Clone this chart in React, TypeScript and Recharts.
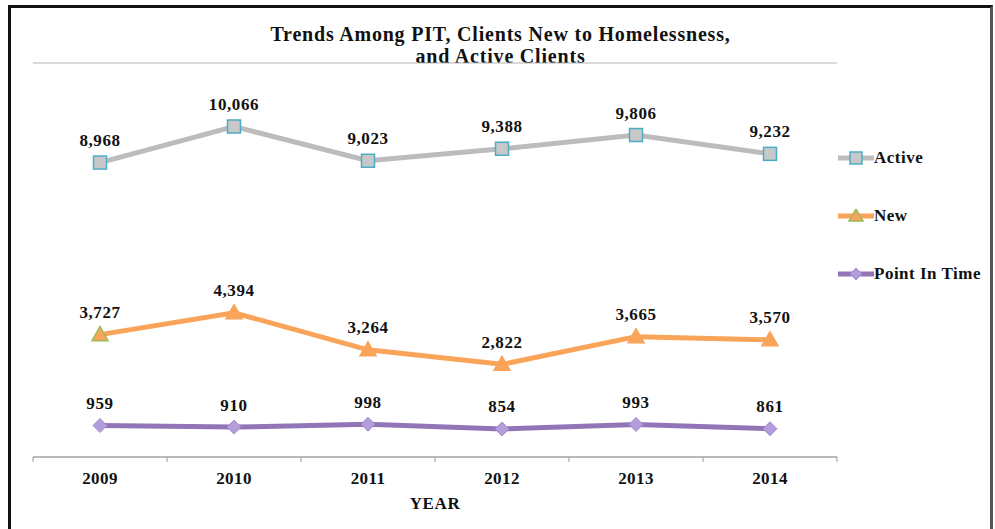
import React from 'react';
import { LineChart, Line, XAxis, YAxis, CartesianGrid, LabelList } from 'recharts';

const years = [2009, 2010, 2011, 2012, 2013, 2014];
const active = [8968, 10066, 9023, 9388, 9806, 9232];
const newClients = [3727, 4394, 3264, 2822, 3665, 3570];
const pointInTime = [959, 910, 998, 854, 993, 861];
const yTicks = [0, 2000, 4000, 6000, 8000, 10000, 12000];
const seriesNames = ['Active', 'New', 'Point In Time'];

const data = years.map((year, i) => ({
  year,
  active: active[i],
  newClients: newClients[i],
  pit: pointInTime[i],
}));

// category labels at whole years, tick marks between them
const xTicks = [...years.map((y) => y - 0.5), years[years.length - 1] + 0.5, ...years].sort((a, b) => a - b);

const font = '"Liberation Serif", "Times New Roman", serif';

const colors = {
  active: '#bcbcbc',
  activeFill: '#c8c8c8',
  activeEdge: '#4bacc6',
  newLine: '#f9a458',
  newEdge: '#9bbb59',
  pit: '#9175b7',
  pitFill: '#b49ddb',
};

const SquareDot = (p: any) => {
  if (p.cx == null) return null;
  return <rect x={p.cx - 6.5} y={p.cy - 6.5} width={13} height={13} fill={colors.activeFill} stroke={colors.activeEdge} strokeWidth={1.5} />;
};

const TriangleDot = (p: any) => {
  if (p.cx == null) return null;
  const { cx, cy } = p;
  return (
    <polygon
      points={`${cx},${cy - 8} ${cx + 8},${cy + 6} ${cx - 8},${cy + 6}`}
      fill={colors.newLine}
      stroke={p.index === 0 ? colors.newEdge : colors.newLine}
      strokeWidth={1.5}
    />
  );
};

const DiamondDot = (p: any) => {
  if (p.cx == null) return null;
  const { cx, cy } = p;
  return (
    <polygon points={`${cx},${cy - 7} ${cx + 7},${cy} ${cx},${cy + 7} ${cx - 7},${cy}`} fill={colors.pitFill} stroke="#a58bce" strokeWidth={1} />
  );
};

const ValueLabel = (p: any) => (
  <text x={p.x} y={p.y - 22} textAnchor="middle" dominantBaseline="central" fontFamily={font} fontWeight="bold" fontSize={17} letterSpacing={0.6} fill="#111">
    {Number(p.value).toLocaleString('en-US')}
  </text>
);

const YearTick = (p: any) => {
  const v = p.payload.value;
  if (Number.isInteger(v)) {
    return (
      <text x={p.x} y={p.y + 13} textAnchor="middle" dominantBaseline="central" fontFamily={font} fontWeight="bold" fontSize={17} letterSpacing={0.4} fill="#111">
        {v}
      </text>
    );
  }
  return <line x1={p.x} x2={p.x} y1={p.y - 8} y2={p.y - 3} stroke="#999" />;
};

const legendItems = [
  {
    name: seriesNames[0],
    color: colors.active,
    icon: <rect x={12} y={1} width={12} height={12} fill={colors.activeFill} stroke={colors.activeEdge} strokeWidth={1.5} />,
  },
  {
    name: seriesNames[1],
    color: colors.newLine,
    icon: <polygon points="18,0 25,12 11,12" fill={colors.newLine} stroke={colors.newEdge} strokeWidth={1.5} />,
  },
  {
    name: seriesNames[2],
    color: colors.pit,
    icon: <polygon points="18,1 24,7 18,13 12,7" fill={colors.pitFill} stroke="#a58bce" />,
  },
];

export default function App() {
  return (
    <div
      style={{
        position: 'absolute',
        left: 8,
        top: 5,
        width: 985,
        height: 540,
        boxSizing: 'border-box',
        border: '3px solid #111',
        borderRightColor: '#555',
        background: '#fff',
      }}
    >
      <div style={{ position: 'absolute', top: 15, left: 0, width: 979, textAlign: 'center', fontFamily: font, fontWeight: 'bold', fontSize: 20, letterSpacing: 0.8, lineHeight: '22px', color: '#111' }}>
        Trends Among PIT, Clients New to Homelessness,
        <br />
        and Active Clients
      </div>
      <div style={{ position: 'absolute', top: 486, left: 22, width: 804, textAlign: 'center', fontFamily: font, fontWeight: 'bold', fontSize: 17, letterSpacing: 0.6, color: '#111' }}>
        YEAR
      </div>
      <div style={{ position: 'absolute', left: 827, top: 142, fontFamily: font }}>
        {legendItems.map((item, i) => (
          <div key={item.name} style={{ display: 'flex', alignItems: 'center', height: 16, marginBottom: i < 2 ? 42 : 0 }}>
            <svg width={36} height={14}>
              <line x1={0} x2={36} y1={7} y2={7} stroke={item.color} strokeWidth={5} />
              {item.icon}
            </svg>
            <span style={{ fontWeight: 'bold', fontSize: 17, letterSpacing: 0.5, color: '#111' }}>{item.name}</span>
          </div>
        ))}
      </div>
      <LineChart width={979} height={530} data={data} margin={{ top: 55, right: 153, bottom: 51, left: 22 }}>
        <CartesianGrid vertical={false} stroke="#b5b5b5" />
        <XAxis
          dataKey="year"
          type="number"
          domain={[2008.5, 2014.5]}
          ticks={xTicks}
          interval={0}
          tick={<YearTick />}
          tickLine={false}
          axisLine={{ stroke: '#999' }}
          height={30}
        />
        <YAxis domain={[0, 12000]} ticks={yTicks} width={0} tick={false} tickLine={false} axisLine={false} />
        <Line dataKey="active" name={seriesNames[0]} stroke={colors.active} strokeWidth={5} dot={<SquareDot />} isAnimationActive={false}>
          <LabelList dataKey="active" content={<ValueLabel />} />
        </Line>
        <Line dataKey="newClients" name={seriesNames[1]} stroke={colors.newLine} strokeWidth={5} dot={<TriangleDot />} isAnimationActive={false}>
          <LabelList dataKey="newClients" content={<ValueLabel />} />
        </Line>
        <Line dataKey="pit" name={seriesNames[2]} stroke={colors.pit} strokeWidth={5} dot={<DiamondDot />} isAnimationActive={false}>
          <LabelList dataKey="pit" content={<ValueLabel />} />
        </Line>
      </LineChart>
    </div>
  );
}
